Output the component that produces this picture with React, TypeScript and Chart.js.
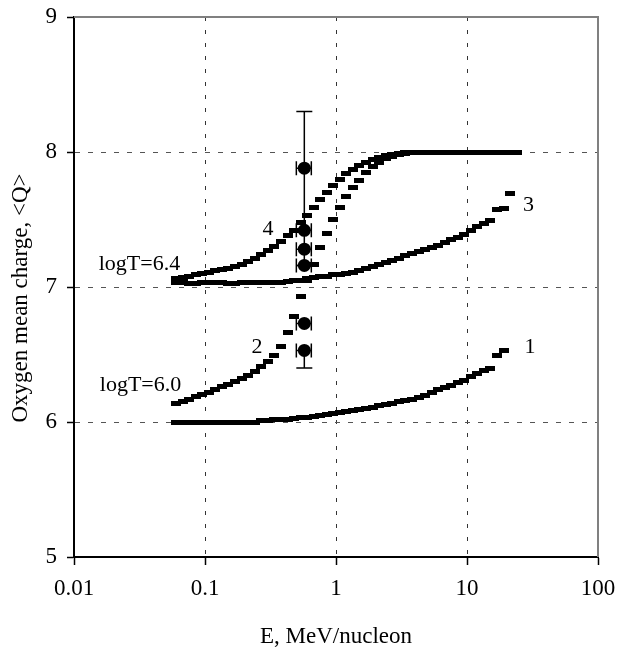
import React, { useEffect, useRef } from 'react';
import { Chart, registerables } from 'chart.js';

Chart.register(...registerables);

// Energy grid, MeV/nucleon
const energy = [
  0.0603, 0.0676, 0.0759, 0.0851, 0.0955, 0.107, 0.120, 0.135, 0.151, 0.170,
  0.191, 0.214, 0.240, 0.269, 0.302, 0.339, 0.380, 0.427, 0.479, 0.537,
  0.603, 0.676, 0.759, 0.851, 0.955, 1.07, 1.20, 1.35, 1.51, 1.70,
  1.91, 2.14, 2.40, 2.69, 3.02, 3.39, 3.80, 4.27, 4.79, 5.37,
  6.03, 6.76, 7.59, 8.51, 9.55, 10.7, 12.0, 13.5, 15.1, 17.0,
  19.1, 21.4, 24.0,
];

// Curve 1: logT=6.0, lower
const qCurve1 = [
  6.0, 6.0, 6.0, 6.0, 6.0, 6.0, 6.0, 6.0, 6.0, 6.0,
  6.0, 6.0, 6.0, 6.01, 6.01, 6.015, 6.02, 6.02, 6.025, 6.03,
  6.035, 6.04, 6.045, 6.055, 6.06, 6.07, 6.075, 6.085, 6.09, 6.10,
  6.11, 6.12, 6.13, 6.14, 6.15, 6.16, 6.17, 6.185, 6.20, 6.22,
  6.24, 6.255, 6.27, 6.29, 6.31, 6.34, 6.36, 6.38, 6.40, 6.49,
  6.53,
];

// Curve 2: logT=6.0, upper
const qCurve2 = [
  6.14, 6.155, 6.17, 6.19, 6.205, 6.22, 6.24, 6.26, 6.28, 6.30,
  6.32, 6.345, 6.375, 6.41, 6.45, 6.49, 6.56, 6.66, 6.78, 6.93,
  7.05, 7.17, 7.29, 7.40, 7.50, 7.59, 7.67, 7.74, 7.79, 7.85,
  7.89, 7.925, 7.95, 7.97, 7.985, 7.99, 8.0, 8.0, 8.0, 8.0,
  8.0, 8.0, 8.0, 8.0, 8.0, 8.0, 8.0, 8.0, 8.0, 8.0,
  8.0, 8.0, 8.0,
];

// Curve 3: logT=6.4, lower
const qCurve3 = [
  7.03, 7.03, 7.025, 7.025, 7.03, 7.03, 7.03, 7.03, 7.025, 7.025,
  7.03, 7.03, 7.03, 7.03, 7.03, 7.035, 7.035, 7.04, 7.045, 7.05,
  7.06, 7.07, 7.075, 7.08, 7.09, 7.095, 7.10, 7.11, 7.125, 7.14,
  7.15, 7.165, 7.18, 7.20, 7.21, 7.23, 7.25, 7.265, 7.28, 7.29,
  7.31, 7.33, 7.35, 7.37, 7.39, 7.42, 7.45, 7.47, 7.49, 7.575,
  7.585, 7.69,
];

// Curve 4: logT=6.4, upper
const qCurve4 = [
  7.06, 7.07, 7.08, 7.09, 7.10, 7.11, 7.12, 7.13, 7.14, 7.15,
  7.17, 7.19, 7.21, 7.24, 7.27, 7.30, 7.34, 7.38, 7.42, 7.48,
  7.53, 7.59, 7.65, 7.70, 7.75, 7.80, 7.84, 7.87, 7.90, 7.925,
  7.945, 7.96, 7.975, 7.985, 7.99, 7.995, 8.0, 8.0, 8.0, 8.0,
  8.0, 8.0, 8.0, 8.0, 8.0, 8.0, 8.0, 8.0, 8.0, 8.0,
  8.0, 8.0, 8.0,
];

// Measured points with error bars
const obsE = [0.573, 0.573, 0.573, 0.573, 0.573, 0.573];
const obsQ = [7.88, 7.42, 7.28, 7.16, 6.73, 6.53];
const obsEErr = [0.075, 0.075, 0.075, 0.075, 0.075, 0.075];
const obsQErrPlus = [0.42, 0, 0, 0, 0, 0];
const obsQErrMinus = [0.72, 0, 0, 0, 0, 0.13];

// Axis ticks
const xTickValues = [0.01, 0.1, 1, 10, 100];
const xTickLabels = ['0.01', '0.1', '1', '10', '100'];
const yTickValues = [5, 6, 7, 8, 9];

// Annotations (text and data anchor)
const noteTexts = ['logT=6.4', 'logT=6.0', '4', '2', '3', '1'];
const noteE = [0.0316, 0.0322, 0.303, 0.249, 29.5, 30.3];
const noteQ = [7.126, 6.233, 7.385, 6.511, 7.563, 6.511];

const xTitle = 'E, MeV/nucleon';
const yTitle = 'Oxygen mean charge, <Q>';

const FONT = "'Liberation Serif', 'Times New Roman', serif";

function makeDash(): HTMLCanvasElement {
  const c = document.createElement('canvas');
  c.width = 10;
  c.height = 5;
  const g = c.getContext('2d')!;
  g.fillStyle = '#000';
  g.fillRect(0, 0, 10, 5);
  return c;
}

const pts = (ys: number[]) => ys.map((q, i) => ({ x: energy[i], y: q }));

const overlayPlugin = {
  id: 'overlay',
  beforeDatasetsDraw(chart: any) {
    const { ctx, scales } = chart;
    const xs = scales.x;
    const ys = scales.y;
    ctx.save();
    ctx.strokeStyle = '#000';
    ctx.lineWidth = 1.5;
    for (let i = 0; i < obsE.length; i++) {
      const px = xs.getPixelForValue(obsE[i]);
      const py = ys.getPixelForValue(obsQ[i]);
      const xl = xs.getPixelForValue(obsE[i] - obsEErr[i]);
      const xr = xs.getPixelForValue(obsE[i] + obsEErr[i]);
      ctx.beginPath();
      ctx.moveTo(xl, py);
      ctx.lineTo(xr, py);
      ctx.moveTo(xl, py - 7);
      ctx.lineTo(xl, py + 7);
      ctx.moveTo(xr, py - 7);
      ctx.lineTo(xr, py + 7);
      ctx.stroke();
      if (obsQErrPlus[i] > 0) {
        const pt = ys.getPixelForValue(obsQ[i] + obsQErrPlus[i]);
        ctx.beginPath();
        ctx.moveTo(px, py);
        ctx.lineTo(px, pt);
        ctx.moveTo(px - 8, pt);
        ctx.lineTo(px + 8, pt);
        ctx.stroke();
      }
      if (obsQErrMinus[i] > 0) {
        const pb = ys.getPixelForValue(obsQ[i] - obsQErrMinus[i]);
        ctx.beginPath();
        ctx.moveTo(px, py);
        ctx.lineTo(px, pb);
        ctx.moveTo(px - 8, pb);
        ctx.lineTo(px + 8, pb);
        ctx.stroke();
      }
    }
    ctx.restore();
  },
  afterDraw(chart: any) {
    const { ctx, chartArea, scales } = chart;
    const xs = scales.x;
    const ys = scales.y;
    ctx.save();
    // top and right frame
    ctx.strokeStyle = '#808080';
    ctx.lineWidth = 2;
    ctx.beginPath();
    ctx.moveTo(chartArea.left, chartArea.top);
    ctx.lineTo(chartArea.right, chartArea.top);
    ctx.lineTo(chartArea.right, chartArea.bottom);
    ctx.stroke();
    // annotations
    ctx.fillStyle = '#000';
    ctx.font = `22px ${FONT}`;
    ctx.textAlign = 'center';
    ctx.textBaseline = 'alphabetic';
    for (let i = 0; i < noteTexts.length; i++) {
      ctx.fillText(noteTexts[i], xs.getPixelForValue(noteE[i]), ys.getPixelForValue(noteQ[i]));
    }
    // axis titles
    ctx.font = `23px ${FONT}`;
    ctx.fillText(xTitle, (chartArea.left + chartArea.right) / 2, chartArea.bottom + 86);
    ctx.translate(27, (chartArea.top + chartArea.bottom) / 2 + 11);
    ctx.rotate(-Math.PI / 2);
    ctx.fillText(yTitle, 0, 0);
    ctx.restore();
  },
};

export default function App() {
  const ref = useRef<HTMLCanvasElement | null>(null);
  useEffect(() => {
    if (!ref.current) return;
    const dash = makeDash();
    const curveDs = (data: number[]) => ({
      data: pts(data),
      showLine: false,
      pointStyle: dash,
      pointRadius: 5,
      pointHoverRadius: 5,
      backgroundColor: '#000',
      borderColor: '#000',
    });
    const chart = new Chart(ref.current, {
      type: 'scatter',
      data: {
        datasets: [
          curveDs(qCurve1),
          curveDs(qCurve2),
          curveDs(qCurve3),
          curveDs(qCurve4),
          {
            data: obsE.map((e, i) => ({ x: e, y: obsQ[i] })),
            showLine: false,
            pointStyle: 'circle',
            pointRadius: 6.5,
            pointHoverRadius: 6.5,
            backgroundColor: '#000',
            borderColor: '#000',
            borderWidth: 0,
          },
        ],
      },
      options: {
        animation: false,
        responsive: true,
        maintainAspectRatio: false,
        devicePixelRatio: 1,
        layout: { padding: { top: 17, right: 20, left: 0, bottom: 0 } },
        plugins: {
          legend: { display: false },
          tooltip: { enabled: false },
          title: { display: false },
        },
        events: [],
        scales: {
          x: {
            type: 'logarithmic',
            min: 0.01,
            max: 100,
            afterBuildTicks: (scale: any) => {
              scale.ticks = xTickValues.map((v) => ({ value: v }));
            },
            afterFit: (scale: any) => {
              scale.height = 93;
              scale.paddingLeft = 0;
              scale.paddingRight = 0;
            },
            ticks: {
              autoSkip: false,
              maxRotation: 0,
              minRotation: 0,
              padding: 10,
              color: '#000',
              font: { family: FONT, size: 23 },
              callback: (_v: any, i: number) => xTickLabels[i],
            },
            grid: {
              color: (c: any) =>
                c.index === 0 || c.index === xTickValues.length - 1 ? 'rgba(0,0,0,0)' : '#333',
              lineWidth: 1,
              drawTicks: true,
              tickLength: 8,
              tickColor: '#000',
              tickWidth: 1.5,
            },
            border: { display: true, color: '#000', width: 2, dash: [4, 9] },
          },
          y: {
            type: 'linear',
            min: 5,
            max: 9,
            afterBuildTicks: (scale: any) => {
              scale.ticks = yTickValues.map((v) => ({ value: v }));
            },
            afterFit: (scale: any) => {
              scale.width = 74;
              scale.paddingTop = 0;
              scale.paddingBottom = 0;
            },
            ticks: {
              padding: 10,
              color: '#000',
              font: { family: FONT, size: 23 },
              callback: (v: any) => String(v),
            },
            grid: {
              color: (c: any) =>
                c.index === 0 || c.index === yTickValues.length - 1 ? 'rgba(0,0,0,0)' : '#555',
              lineWidth: 1,
              drawTicks: true,
              tickLength: 7,
              tickColor: '#000',
              tickWidth: 1.5,
            },
            border: { display: true, color: '#000', width: 2, dash: [5, 8] },
          },
        },
      },
      plugins: [overlayPlugin],
    } as any);
    return () => chart.destroy();
  }, []);
  return (
    <div style={{ position: 'absolute', left: 0, top: 0, width: 618, height: 650, background: '#fff' }}>
      <canvas ref={ref} />
    </div>
  );
}
